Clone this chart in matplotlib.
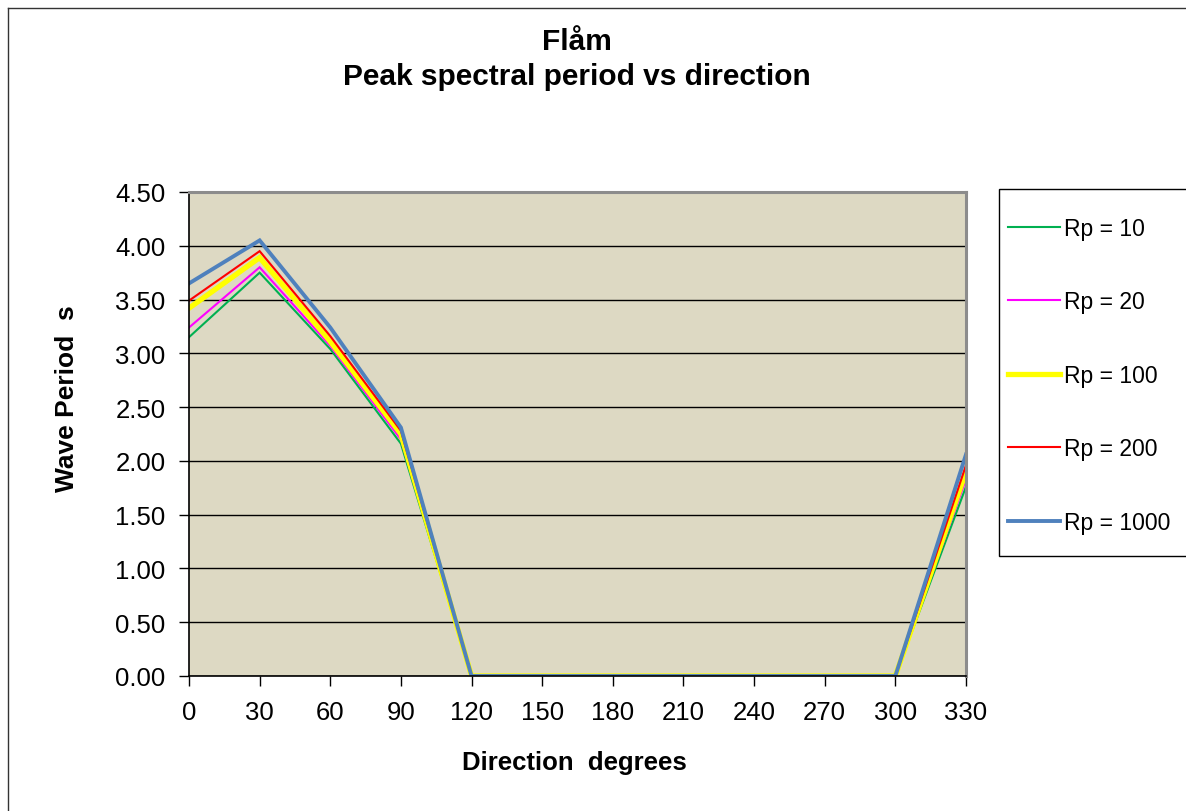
"""Flåm: peak spectral period vs direction, for several return periods."""
import matplotlib
matplotlib.use("Agg")
import matplotlib.pyplot as plt
from matplotlib.lines import Line2D
from matplotlib.patches import Rectangle

plt.rcParams.update({
    "font.family": ["Liberation Sans", "DejaVu Sans"],
    "font.size": 18,
})

# direction, degrees
directions = [0, 30, 60, 90, 120, 150, 180, 210, 240, 270, 300, 330]

# peak period in seconds for each return period
rp10 = [3.15, 3.75, 3.04, 2.16, 0, 0, 0, 0, 0, 0, 0, 1.76]
rp20 = [3.24, 3.80, 3.07, 2.20, 0, 0, 0, 0, 0, 0, 0, 1.83]
rp100 = [3.42, 3.89, 3.11, 2.25, 0, 0, 0, 0, 0, 0, 0, 1.90]
rp200 = [3.49, 3.95, 3.16, 2.28, 0, 0, 0, 0, 0, 0, 0, 1.96]
rp1000 = [3.65, 4.05, 3.24, 2.31, 0, 0, 0, 0, 0, 0, 0, 2.06]

series_labels = ["Rp = 10", "Rp = 20", "Rp = 100", "Rp = 200", "Rp = 1000"]
series_colors = ["#00B050", "#FF00FF", "#FFFF00", "#FF0000", "#4F81BD"]
series_widths = [1.5, 1.5, 3.8, 1.5, 2.8]

y_ticks = [0, 0.5, 1.0, 1.5, 2.0, 2.5, 3.0, 3.5, 4.0, 4.5]

W, H = 1186, 812
fig = plt.figure(figsize=(W / 100, H / 100), dpi=100)
fig.patch.set_facecolor("white")

# chart border (top and left visible only, rest is cropped)
fig.add_artist(Line2D([8 / W, 8 / W], [0, 1 - 9 / H], transform=fig.transFigure,
                      color="#333333", linewidth=1.0))
fig.add_artist(Line2D([8 / W, 1], [1 - 9 / H, 1 - 9 / H], transform=fig.transFigure,
                      color="#333333", linewidth=1.0))

left, right, top, bottom = 189, 966, 193, 677
ax = fig.add_axes([left / W, 1 - bottom / H, (right - left) / W, (bottom - top) / H])
ax.set_facecolor("#DDD9C3")

all_series = [rp10, rp20, rp100, rp200, rp1000]
for vals, lab, col, lw in zip(all_series, series_labels, series_colors, series_widths):
    ax.plot(directions, vals, color=col, linewidth=lw, label=lab,
            solid_joinstyle="miter")

ax.set_xlim(0, 330)
ax.set_ylim(0, 4.5)
ax.set_xticks(directions)
ax.set_xticklabels([str(d) for d in directions])
ax.set_yticks(y_ticks)
ax.set_yticklabels([f"{v:.2f}" for v in y_ticks])
ax.yaxis.grid(True, color="black", linewidth=1.0)
ax.set_axisbelow(True)
ax.tick_params(axis="both", direction="out", length=7, width=1,
               labelsize=18.5, colors="black")
ax.tick_params(axis="x", pad=10)
ax.tick_params(axis="y", pad=10)

for side in ["left", "bottom"]:
    ax.spines[side].set_color("black")
    ax.spines[side].set_linewidth(1.2)
for side in ["top", "right"]:
    ax.spines[side].set_color("#8C8C8C")
    ax.spines[side].set_linewidth(2.2)

fig.text(574 / W, 1 - 763 / H, "Direction  degrees", ha="center", va="center",
         fontsize=18.5, fontweight="bold")
fig.text(67 / W, 1 - 399 / H, "Wave Period  s", ha="center", va="center",
         rotation=90, fontsize=19, fontweight="bold")

fig.text(577 / W, 1 - 42 / H, "Flåm", ha="center", va="center",
         fontsize=21.5, fontweight="bold")
fig.text(577 / W, 1 - 77 / H, "Peak spectral period vs direction",
         ha="center", va="center", fontsize=21.5, fontweight="bold")

# legend box (right side cropped by the picture edge), drawn under the axes
fig.add_artist(Rectangle((999 / W, 1 - 557 / H), 240 / W, 367 / H,
                         transform=fig.transFigure, facecolor="white",
                         edgecolor="black", linewidth=1.0, zorder=-1))
leg = ax.legend(loc="upper left", bbox_to_anchor=(1008 / W, 1 - 218 / H),
                bbox_transform=fig.transFigure, fontsize=16.5, frameon=False,
                labelspacing=2.2, handlelength=2.25, handletextpad=0.2,
                borderpad=0, borderaxespad=0)

fig.savefig("out.png", dpi=100, facecolor="white")
